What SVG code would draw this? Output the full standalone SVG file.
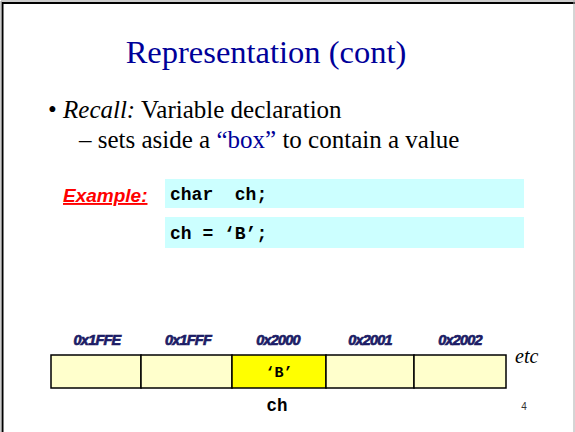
<svg xmlns="http://www.w3.org/2000/svg" width="575" height="432" viewBox="0 0 575 432">
<style>
.serif{font-family:"Liberation Serif","Times New Roman",serif}
.mono{font-family:"Liberation Mono","Courier New",monospace;font-weight:bold;white-space:pre}
.addr{font-family:"Liberation Sans",Arial,sans-serif;font-weight:bold;font-style:italic;font-size:14.5px;fill:#1c1c66;text-anchor:middle;letter-spacing:-0.8px;stroke:#1c1c66;stroke-width:0.7}
.cell{fill:#ffffcc;stroke:#000;stroke-width:1.5}
.code{fill:#ccffff}
</style>
<rect x="0" y="0" width="575" height="432" fill="#fff"/>
<path d="M2.5 432 V3 H575" fill="none" stroke="#000" stroke-width="2"/>
<path d="M1 432 V1 H575" fill="none" stroke="#999" stroke-width="1"/>
<line x1="574" y1="0" x2="574" y2="432" stroke="#aaa" stroke-width="1"/>
<text class="serif" x="266" y="63" font-size="32.5" fill="#000099" text-anchor="middle">Representation (cont)</text>
<text class="serif" x="48" y="118" font-size="25" fill="#000">• <tspan font-style="italic">Recall:</tspan> Variable declaration</text>
<text class="serif" x="79" y="148" font-size="25" fill="#000">– sets aside a <tspan fill="#000099">“box”</tspan> to contain a value</text>
<g id="example">
<text x="63" y="202" font-family="Liberation Sans,Arial,sans-serif" font-weight="bold" font-style="italic" font-size="19" fill="#ff0000" text-decoration="underline">Example:</text>
</g>
<g id="code1">
<rect class="code" x="165" y="179" width="359" height="29"/>
<text class="mono" x="170" y="200" font-size="18" xml:space="preserve">char  ch;</text>
</g>
<g id="code2">
<rect class="code" x="165" y="217" width="359" height="31"/>
<text class="mono" x="170" y="239" font-size="18">ch = ‘B’;</text>
</g>
<g id="mem1"><rect class="cell" x="51" y="355" width="90" height="33"/><text class="addr" x="97" y="345">0x1FFE</text></g>
<g id="mem2"><rect class="cell" x="141" y="355" width="91" height="33"/><text class="addr" x="188" y="345">0x1FFF</text></g>
<g id="mem3"><rect class="cell" x="232" y="355" width="94" height="33" style="fill:#ffff00"/><text class="addr" x="278" y="345">0x2000</text><text class="mono" x="279" y="377" font-size="15" text-anchor="middle">‘B’</text><text class="mono" x="277" y="411" font-size="17.5" text-anchor="middle">ch</text></g>
<g id="mem4"><rect class="cell" x="326" y="355" width="88" height="33"/><text class="addr" x="370" y="345">0x2001</text></g>
<g id="mem5"><rect class="cell" x="414" y="355" width="92" height="33"/><text class="addr" x="460" y="345">0x2002</text></g>
<g id="connectors"></g>
<text class="serif" x="515" y="363" font-size="20" font-style="italic">etc</text>
<text x="524" y="410" font-family="Liberation Sans,Arial,sans-serif" font-size="10" fill="#333" text-anchor="middle">4</text>
</svg>
